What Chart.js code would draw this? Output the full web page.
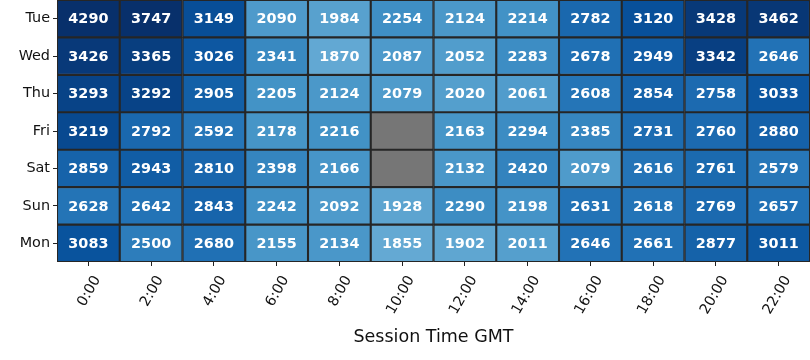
<!DOCTYPE html>
<html>
<head>
<meta charset="utf-8">
<script src="https://cdn.jsdelivr.net/npm/chart.js@4/dist/chart.umd.min.js"></script>
<style>
    html, body { margin: 0; padding: 0; background: #fff; }
    #wrap { width: 810px; height: 360px; }
</style>
</head>
<body>
<div id="wrap"><canvas id="heat"></canvas></div>
<script>
// hours along x, days down y
const hours = ["0:00", "2:00", "4:00", "6:00", "8:00", "10:00", "12:00", "14:00", "16:00", "18:00", "20:00", "22:00"];
const days = ["Tue", "Wed", "Thu", "Fri", "Sat", "Sun", "Mon"];

const tue = [4290, 3747, 3149, 2090, 1984, 2254, 2124, 2214, 2782, 3120, 3428, 3462];
const wed = [3426, 3365, 3026, 2341, 1870, 2087, 2052, 2283, 2678, 2949, 3342, 2646];
const thu = [3293, 3292, 2905, 2205, 2124, 2079, 2020, 2061, 2608, 2854, 2758, 3033];
const fri = [3219, 2792, 2592, 2178, 2216, null, 2163, 2294, 2385, 2731, 2760, 2880];
const sat = [2859, 2943, 2810, 2398, 2166, null, 2132, 2420, 2079, 2616, 2761, 2579];
const sun = [2628, 2642, 2843, 2242, 2092, 1928, 2290, 2198, 2631, 2618, 2769, 2657];
const mon = [3083, 2500, 2680, 2155, 2134, 1855, 1902, 2011, 2646, 2661, 2877, 3011];

const rows = [tue, wed, thu, fri, sat, sun, mon];

// matplotlib "Blues"
const blues = ["#f7fbff", "#deebf7", "#c6dbef", "#9ecae1", "#6baed6", "#4292c6", "#2171b5", "#08519c", "#08306b"];
const v_min = 0;
const v_max = 3550;

function hex_to_rgb(h){
    return [parseInt(h.substr(1, 2), 16), parseInt(h.substr(3, 2), 16), parseInt(h.substr(5, 2), 16)];
}

function value2color(v){
    if (v === null) return "#767676";
    let t = (v - v_min) / (v_max - v_min);
    t = Math.max(0, Math.min(1, t));
    let pos = t * (blues.length - 1);
    let i = Math.min(Math.floor(pos), blues.length - 2);
    let f = pos - i;
    let a = hex_to_rgb(blues[i]);
    let b = hex_to_rgb(blues[i + 1]);
    let c = a.map((x, k) => Math.round(x + (b[k] - x) * f));
    return "rgb(" + c.join(",") + ")";
}

var datasets = [];
for (let d = 0; d < rows.length; d++){
    datasets.push({
        label: days[d],
        data: hours.map(() => [d, d + 1]),
        cell_values: rows[d],
        backgroundColor: rows[d].map(value2color),
        borderColor: "#262626",
        borderWidth: 1.4,
        borderSkipped: false,
        barPercentage: 1,
        categoryPercentage: 1,
        grouped: false
    });
}

// writes the number in the middle of each cell
const cell_text = {
    id: "cell_text",
    afterDatasetsDraw(chart){
        const ctx = chart.ctx;
        ctx.save();
        ctx.fillStyle = "#ffffff";
        ctx.font = "bold 14.4px 'DejaVu Sans'";
        ctx.textAlign = "center";
        ctx.textBaseline = "middle";
        chart.data.datasets.forEach((ds, i) => {
            let meta = chart.getDatasetMeta(i);
            meta.data.forEach((bar, j) => {
                let v = ds.cell_values[j];
                if (v === null) return;
                ctx.fillText(String(v), bar.x, (bar.y + bar.base) / 2 + 1);
            });
        });
        ctx.restore();
    }
};

const config = {
    type: "bar",
    data: { labels: hours, datasets: datasets },
    options: {
        responsive: true,
        maintainAspectRatio: false,
        animation: false,
        layout: { padding: 0 },
        plugins: {
            legend: { display: false },
            tooltip: { enabled: false }
        },
        scales: {
            x: {
                type: "category",
                offset: true,
                grid: { offset: false, drawOnChartArea: false, drawTicks: true, tickLength: 4, color: "#222", tickWidth: 1 },
                border: { display: false },
                ticks: {
                    color: "#111",
                    font: { family: "DejaVu Sans", size: 14.4 },
                    maxRotation: 60,
                    minRotation: 60,
                    padding: 7,
                    labelOffset: 9,
                    autoSkip: false
                },
                title: {
                    display: true,
                    text: "Session Time GMT",
                    color: "#111",
                    font: { family: "DejaVu Sans", size: 17.5 },
                    padding: { top: 0, bottom: 12 }
                },
                afterFit: function(scale){
                    scale.height = 98;
                    scale.paddingLeft = 0;
                    scale.paddingRight = 0;
                }
            },
            y: {
                type: "linear",
                reverse: true,
                min: 0,
                max: 7,
                grid: { drawOnChartArea: false, drawTicks: true, tickLength: 4, color: "#222", tickWidth: 1 },
                border: { display: false },
                afterBuildTicks: function(axis){
                    axis.ticks = days.map((d, i) => ({ value: i + 0.5 }));
                },
                ticks: {
                    color: "#111",
                    font: { family: "DejaVu Sans", size: 14.4 },
                    padding: 3,
                    callback: function(value){ return days[Math.floor(value)]; }
                },
                afterFit: function(scale){
                    scale.width = 57;
                    scale.paddingTop = 0;
                    scale.paddingBottom = 0;
                }
            }
        }
    },
    plugins: [cell_text]
};

var heat_chart = new Chart(document.getElementById("heat"), config);
</script>
</body>
</html>
